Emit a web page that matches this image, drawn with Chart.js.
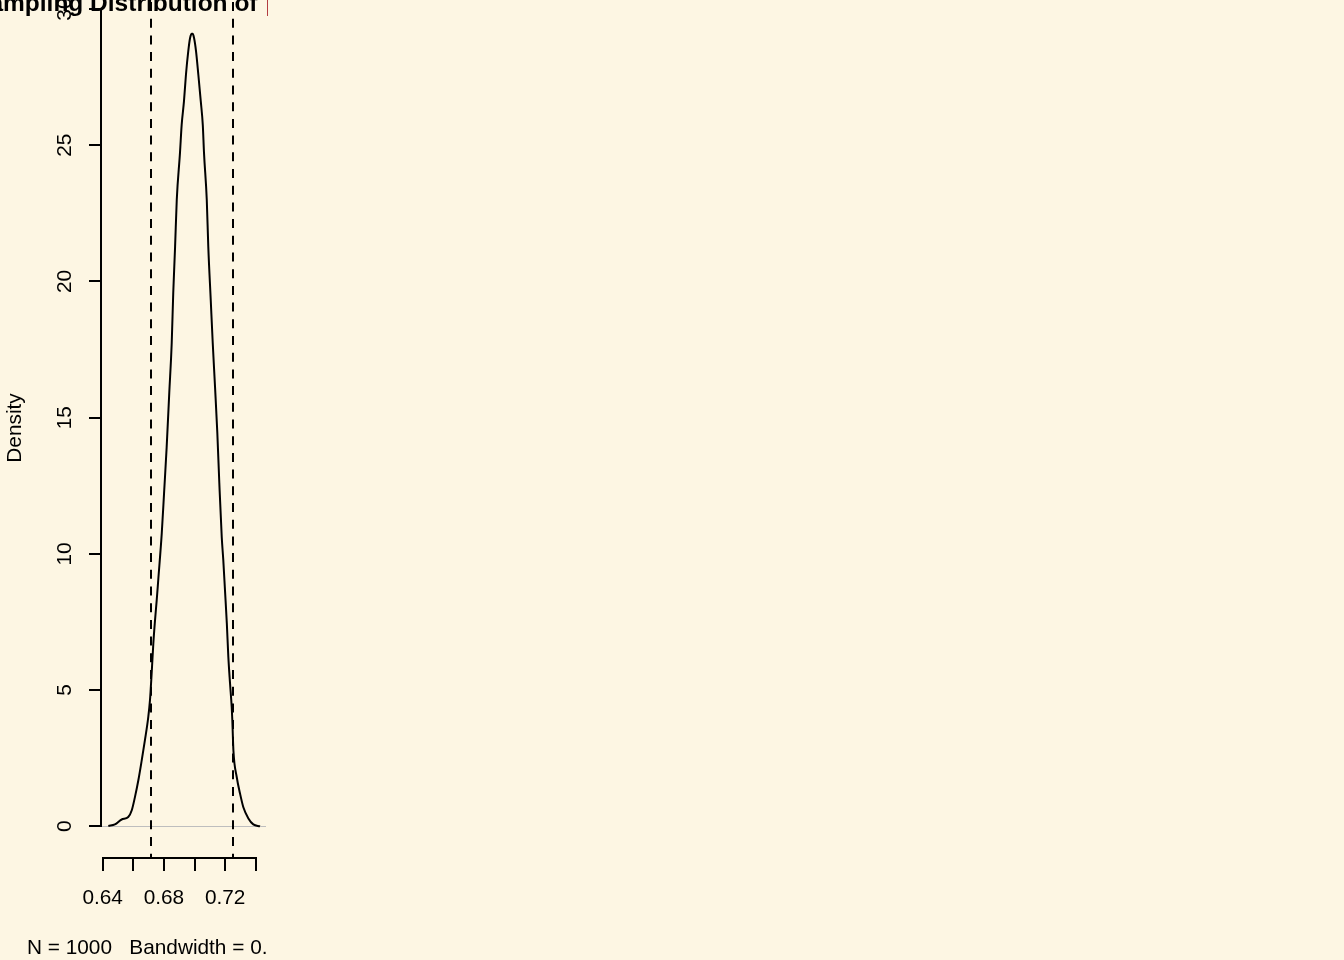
<!DOCTYPE html>
<html>
<head>
<meta charset="utf-8">
<title>Sampling Distribution</title>
<script src="https://cdn.jsdelivr.net/npm/chart.js@4/dist/chart.umd.min.js"></script>
<style>
  html, body { margin: 0; padding: 0; background: #fdf6e3; }
  #wrap { width: 1344px; height: 960px; }
</style>
</head>
<body>
<div id="wrap"><canvas id="densChart" width="1344" height="960"></canvas></div>
<script>
// Kernel density of 1000 sample proportions
const densX = [0.6437, 0.6480, 0.6524, 0.6567, 0.6590, 0.6611, 0.6633, 0.6655, 0.6676, 0.6698,
  0.6709, 0.6720, 0.6731, 0.6742, 0.6753, 0.6763, 0.6786, 0.6801, 0.6818, 0.6835,
  0.6851, 0.6861, 0.6873, 0.6884, 0.6905, 0.6916, 0.6931, 0.6944, 0.6959, 0.6971,
  0.6982, 0.6988, 0.6997, 0.7010, 0.7025, 0.7041, 0.7054, 0.7062, 0.7080, 0.7090,
  0.7106, 0.7119, 0.7134, 0.7149, 0.7162, 0.7178, 0.7188, 0.7199, 0.7211, 0.7221,
  0.7232, 0.7243, 0.7247, 0.7254, 0.7276, 0.7297, 0.7319, 0.7352, 0.7384, 0.7428];
const densY = [0.01, 0.07, 0.25, 0.34, 0.59, 1.08, 1.69, 2.42, 3.16, 4.02,
  4.63, 5.62, 6.72, 7.57, 8.30, 9.04, 10.76, 12.23, 13.92, 15.91,
  17.74, 19.58, 21.27, 23.0, 24.72, 25.75, 26.61, 27.59, 28.45, 28.94,
  29.09, 29.09, 28.94, 28.45, 27.59, 26.61, 25.75, 24.72, 23.0, 21.27,
  19.32, 17.74, 16.13, 14.44, 12.60, 10.6, 9.77, 8.67, 7.46, 6.21,
  5.25, 4.37, 3.89, 2.79, 1.80, 1.21, 0.70, 0.29, 0.07, 0.0];

// 2.5% and 97.5% quantiles (dashed lines)
const quantiles = [0.6716, 0.7252];

// axis limits (R pads the data range by 4%)
const xLimits = [0.6389, 0.7467];
const yLimits = [-1.164, 30.26];

const xTicks = [0.64, 0.66, 0.68, 0.70, 0.72, 0.74];
const xTickLabels = ['0.64', '', '0.68', '', '0.72', ''];
const yTicks = [0, 5, 10, 15, 20, 25, 30];
const yTickLabels = ['0', '5', '10', '15', '20', '25', '30'];

const titleText = 'Sampling Distribution of';
const titleRed = 'p';
const xLabel = 'N = 1000   Bandwidth = 0.002346';
const yLabel = 'Density';

const FONT = "'Liberation Sans', Arial, sans-serif";
const colors = {
  bg: '#fdf6e3',
  ink: '#000000',
  zero: '#bebebe',
  red: '#a01018',
};

// R-style axes, ablines and titles drawn through the chart's scales
const rAxes = {
  id: 'rAxes',
  beforeDatasetsDraw(chart) {
    const { ctx, chartArea: a, scales: { x, y } } = chart;
    ctx.save();
    ctx.beginPath();
    ctx.rect(a.left, a.top, a.right - a.left, a.bottom - a.top);
    ctx.clip();
    // abline(h = 0, col = "gray")
    ctx.strokeStyle = colors.zero;
    ctx.lineWidth = 1;
    ctx.beginPath();
    ctx.moveTo(a.left, Math.round(y.getPixelForValue(0)) + 0.5);
    ctx.lineTo(a.right, Math.round(y.getPixelForValue(0)) + 0.5);
    ctx.stroke();
    // abline(v = quantiles, lty = 2)
    ctx.strokeStyle = colors.ink;
    ctx.lineWidth = 2;
    ctx.setLineDash([9, 7.7]);
    quantiles.forEach(q => {
      const px = Math.round(x.getPixelForValue(q));
      ctx.beginPath();
      ctx.moveTo(px, a.top);
      ctx.lineTo(px, a.bottom);
      ctx.stroke();
    });
    ctx.restore();
  },
  afterDraw(chart) {
    const { ctx, chartArea: a, scales: { x, y } } = chart;
    ctx.save();
    ctx.strokeStyle = colors.ink;
    ctx.fillStyle = colors.ink;
    ctx.lineWidth = 2;
    ctx.font = '20.8px ' + FONT;

    // x axis
    const xa = Math.round(a.bottom);
    ctx.beginPath();
    ctx.moveTo(Math.round(x.getPixelForValue(xTicks[0])) - 1, xa);
    ctx.lineTo(Math.round(x.getPixelForValue(xTicks[xTicks.length - 1])) + 1, xa);
    xTicks.forEach(t => {
      const px = Math.round(x.getPixelForValue(t));
      ctx.moveTo(px, xa);
      ctx.lineTo(px, xa + 13);
    });
    ctx.stroke();
    ctx.textAlign = 'center';
    ctx.textBaseline = 'alphabetic';
    xTicks.forEach((t, i) => {
      if (xTickLabels[i]) ctx.fillText(xTickLabels[i], x.getPixelForValue(t), xa + 46);
    });

    // y axis
    const ya = Math.round(a.left);
    ctx.beginPath();
    ctx.moveTo(ya, Math.round(y.getPixelForValue(yTicks[0])) + 1);
    ctx.lineTo(ya, Math.round(y.getPixelForValue(yTicks[yTicks.length - 1])) - 1);
    yTicks.forEach(t => {
      const py = Math.round(y.getPixelForValue(t));
      ctx.moveTo(ya, py);
      ctx.lineTo(ya - 12, py);
    });
    ctx.stroke();
    yTicks.forEach((t, i) => {
      ctx.save();
      ctx.translate(ya - 30, y.getPixelForValue(t));
      ctx.rotate(-Math.PI / 2);
      ctx.fillText(yTickLabels[i], 0, 0);
      ctx.restore();
    });

    // y label
    ctx.save();
    ctx.translate(20.5, 428);
    ctx.rotate(-Math.PI / 2);
    ctx.fillText(yLabel, 0, 0);
    ctx.restore();

    // title and x label, clipped at the figure edge like the reference
    ctx.beginPath();
    ctx.rect(0, 0, 268, 960);
    ctx.clip();
    ctx.textAlign = 'left';
    ctx.fillText(xLabel, 27, 954);
    ctx.font = 'bold 24.5px ' + FONT;
    ctx.textAlign = 'right';
    ctx.fillText(titleText, 257.5, 11);
    ctx.textAlign = 'left';
    ctx.fillStyle = colors.red;
    ctx.fillText(titleRed, 265.5, 11);
    ctx.restore();
  }
};

const densCtx = document.getElementById('densChart');
new Chart(densCtx, {
  type: 'scatter',
  data: {
    datasets: [{
      label: 'density',
      data: densX.map((v, i) => ({ x: v, y: densY[i] })),
      showLine: true,
      borderColor: colors.ink,
      borderWidth: 2,
      pointRadius: 0,
      cubicInterpolationMode: 'monotone',
      fill: false,
    }]
  },
  options: {
    responsive: false,
    animation: false,
    devicePixelRatio: 1,
    layout: {
      padding: { left: 101, right: 1078, top: 2, bottom: 102 }
    },
    plugins: {
      legend: { display: false },
      tooltip: { enabled: false },
    },
    scales: {
      x: { type: 'linear', display: false, min: xLimits[0], max: xLimits[1] },
      y: { type: 'linear', display: false, min: yLimits[0], max: yLimits[1] },
    }
  },
  plugins: [rAxes]
});
</script>
</body>
</html>
